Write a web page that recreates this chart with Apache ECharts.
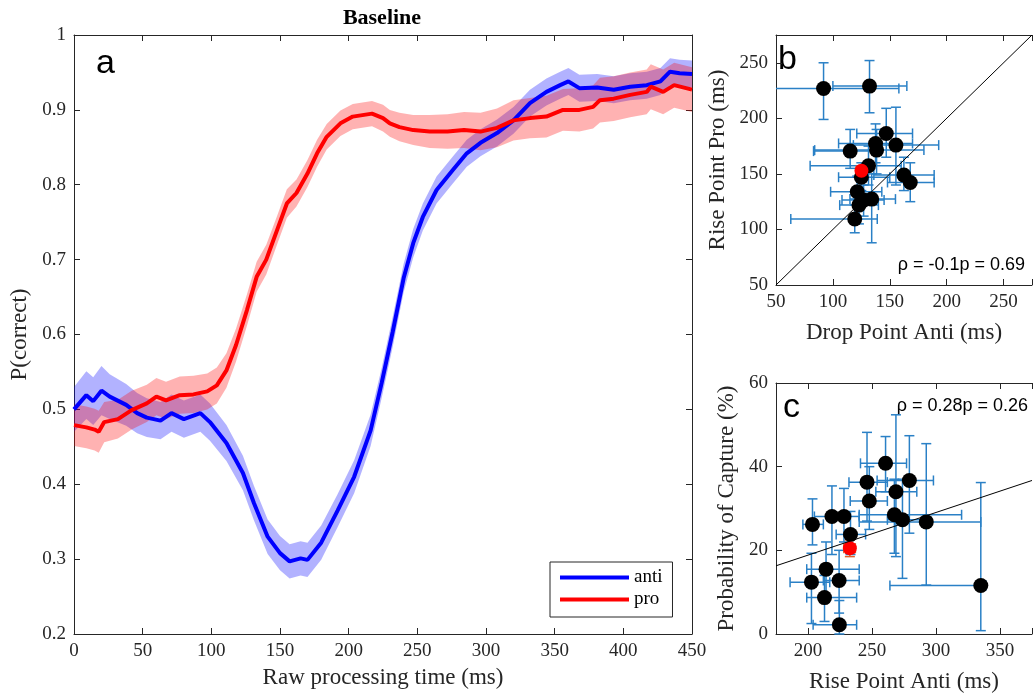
<!DOCTYPE html>
<html><head><meta charset="utf-8">
<script src="https://cdn.jsdelivr.net/npm/echarts@6/dist/echarts.min.js"></script>
<style>html,body{margin:0;padding:0;background:#fff}#c{width:1035px;height:694px}</style>
</head><body><div id="c"></div>
<script>
// ---------- Panel a data ----------
const timeAnti = [0,9,14,20,26,38,46,53,63,71, 80,92,99,111,123,131,141,150,157,165, 170,180,192,204,216,224,232,240,247,254, 264,276,286,296,308,320,332,344,354,360, 368,381,393,405,417,427,434,441,450];
const antiMean = [0.500,0.519,0.511,0.525,0.517,0.506,0.495,0.489,0.485,0.495, 0.487,0.495,0.483,0.455,0.415,0.375,0.330,0.308,0.297,0.301, 0.299,0.322,0.365,0.410,0.472,0.535,0.603,0.675,0.722,0.757, 0.793,0.820,0.842,0.856,0.869,0.886,0.909,0.924,0.933,0.938, 0.929,0.930,0.927,0.931,0.933,0.938,0.951,0.949,0.948];
const antiSem = [0.030,0.032,0.032,0.033,0.030,0.028,0.027,0.026,0.025,0.025, 0.025,0.025,0.025,0.024,0.023,0.023,0.023,0.023,0.023,0.023, 0.023,0.023,0.022,0.022,0.021,0.020,0.020,0.019,0.019,0.018, 0.018,0.018,0.018,0.018,0.018,0.018,0.018,0.018,0.018,0.018, 0.018,0.018,0.018,0.018,0.018,0.018,0.018,0.018,0.018];
const timePro = [0,9,15,18,22,32,42,53,60,67, 77,87,97,104,111,118,126,133,140,148, 155,162,170,177,184,194,203,217,225,230, 237,247,259,272,284,296,308,320,332,344, 356,368,378,383,393,405,417,420,429,437, 450];
const proMean = [0.479,0.476,0.473,0.470,0.483,0.487,0.499,0.508,0.517,0.512, 0.519,0.520,0.524,0.532,0.552,0.586,0.633,0.677,0.700,0.740, 0.775,0.789,0.815,0.842,0.864,0.882,0.891,0.895,0.889,0.882, 0.877,0.873,0.871,0.871,0.873,0.871,0.876,0.886,0.889,0.891, 0.900,0.900,0.904,0.913,0.915,0.920,0.924,0.931,0.924,0.933, 0.927];
const proSem = [0.028,0.028,0.028,0.028,0.027,0.026,0.026,0.025,0.025,0.025, 0.025,0.025,0.024,0.024,0.023,0.022,0.021,0.020,0.020,0.019, 0.019,0.018,0.018,0.018,0.017,0.017,0.017,0.017,0.018,0.018, 0.019,0.020,0.022,0.023,0.024,0.025,0.026,0.027,0.027,0.028, 0.028,0.029,0.029,0.030,0.030,0.030,0.030,0.030,0.030,0.030, 0.030];
const xTicksA = [0,450,50];
const yTicksA = [0.2,1,0.1];

// ---------- Panel b data ----------
const bX   = [91.8,132.2,146.9,155.4,137.5,138.4,115.2,131.3,162.4,168.0,121.4,134.1,127.0,122.9,119.2,125.0];
const bY   = [226.9,229.0,186.4,175.9,177.4,171.4,170.5,157.3,148.9,142.3,133.9,127.3,126.4,121.9,109.4,147.0];
const bXlo = [20,100,121,118,105,84,83,80,136,148,98,115,108,106,63,105];
const bXhi = [158,165,170,193,170,180,140,160,189,189,143,155,145,140,139,150];
const bYlo = [199,205,165,140,160,150,155,140,135,125,120,88,112,105,97,135];
const bYhi = [250,252,209,210,195,190,190,175,165,160,148,150,140,138,122,160];
const bMean = [125.1,152.8,120.5,129.5,148.5,157];
const identityB = [[50,50],[275,275]];

// ---------- Panel c data ----------
const cX   = [203.5,218.7,228.1,233.2,246.1,247.9,260.6,268.7,267.5,273.8,279.2,292.4,335.0,202.7,214.1,212.9,224.3,224.5];
const cY   = [26.2,28.1,28.1,23.8,36.3,31.8,40.8,34.0,28.5,27.3,36.7,26.8,11.6,12.4,15.5,8.7,12.8,2.2];
const cXlo = [196,205,218,222,232,233,241,253,240,262,254,240,264,186,199,199,212,204];
const cXhi = [212,232,240,245,262,262,277,285,320,290,298,335,339,217,240,238,240,238];
const cYlo = [21.3,19,22,19,27,25,34,18.5,19.3,13.3,24.1,11.7,0.8,2.5,8,3,5,0];
const cYhi = [32.3,35.4,34.8,29.3,48.2,40,47.2,52.4,37,37,47.4,45.5,36.2,19.3,22,14,20,8];
const cMean = [232.7,20.5,228,237,18.5,22.5];
const regressionC = [[175,16.3],[375,36.7]];

// ---------- helpers ----------
const AX = '#262626';
const SERIF = '"Liberation Serif","Times New Roman",serif';
const SANS = '"Liberation Sans",Arial,Helvetica,sans-serif';
const ERR = '#2a80c6';

function zip(a,b){ return a.map((v,i)=>[v,b[i]]); }
function pack(x,y,xl,xh,yl,yh){ return x.map((v,i)=>[v,y[i],xl[i],xh[i],yl[i],yh[i]]); }

function baseAxis(extra){
  return Object.assign({
    type:'value',
    axisLine:{show:true,onZero:false,lineStyle:{color:AX,width:1}},
    axisTick:{show:true,inside:true,length:6,lineStyle:{color:AX,width:1}},
    splitLine:{show:false},
    axisLabel:{color:AX,fontFamily:SERIF,fontSize:19,margin:8},
    nameLocation:'middle',
    nameTextStyle:{color:AX,fontFamily:SERIF,fontSize:23}
  }, extra);
}
function mirror(extra){
  const a = baseAxis(extra);
  a.axisLabel = {show:false};
  return a;
}
const lbl50 = {color:AX,fontFamily:SERIF,fontSize:19,margin:8,formatter:v=>(v%50===0?String(v):'')};

function bandRender(times, mean, sem, fill){
  return function(params, api){
    const up = [], lo = [];
    for (let i=0;i<times.length;i++){
      up.push(api.coord([times[i], mean[i]+sem[i]]));
      lo.push(api.coord([times[i], mean[i]-sem[i]]));
    }
    return {type:'polygon', shape:{points: up.concat(lo.reverse())}, style:{fill:fill, stroke:null}};
  };
}

function errRender(color, lw, cap){
  return function(params, api){
    const cs = params.coordSys;
    const cx = v=>Math.max(cs.x, Math.min(cs.x+cs.width, v));
    const cy = v=>Math.max(cs.y, Math.min(cs.y+cs.height, v));
    const x=api.value(0), y=api.value(1);
    const c = api.coord([x,y]);
    const pxl = api.coord([api.value(2),y])[0], pxh = api.coord([api.value(3),y])[0];
    const pyl = api.coord([x,api.value(4)])[1], pyh = api.coord([x,api.value(5)])[1];
    const st = {stroke:color, lineWidth:lw, fill:null};
    const L = (x1,y1,x2,y2)=>({type:'line',shape:{x1,y1,x2,y2},style:st});
    const ch = [];
    ch.push(L(cx(pxl),c[1],cx(pxh),c[1]));
    if (pxl>=cs.x) ch.push(L(pxl,c[1]-cap,pxl,c[1]+cap));
    if (pxh<=cs.x+cs.width) ch.push(L(pxh,c[1]-cap,pxh,c[1]+cap));
    ch.push(L(c[0],cy(pyl),c[0],cy(pyh)));
    if (pyl<=cs.y+cs.height) ch.push(L(c[0]-cap,pyl,c[0]+cap,pyl));
    if (pyh>=cs.y) ch.push(L(c[0]-cap,pyh,c[0]+cap,pyh));
    return {type:'group', children:ch};
  };
}

const chart = echarts.init(document.getElementById('c'), null, {renderer:'canvas'});

const option = {
  animation:false,
  backgroundColor:'#fff',
  grid:[
    {left:74, top:35, width:618, height:599},
    {left:776, top:35, width:265, height:250},
    {left:776, top:383, width:262, height:251}
  ],
  xAxis:[
    baseAxis({gridIndex:0, position:'bottom', min:xTicksA[0], max:xTicksA[1], interval:xTicksA[2],
      name:'Raw processing time (ms)', nameGap:32}),
    mirror({gridIndex:0, position:'top', min:xTicksA[0], max:xTicksA[1], interval:xTicksA[2]}),
    baseAxis({gridIndex:1, position:'bottom', min:50, max:275, interval:50,
      name:'Drop Point Anti (ms)', nameGap:36, axisLabel:lbl50}),
    mirror({gridIndex:1, position:'top', min:50, max:275, interval:50}),
    baseAxis({gridIndex:2, position:'bottom', min:175, max:375, minInterval:50, maxInterval:50,
      name:'Rise Point Anti (ms)', nameGap:36, axisLabel:lbl50}),
    mirror({gridIndex:2, position:'top', min:175, max:375, minInterval:50, maxInterval:50})
  ],
  yAxis:[
    baseAxis({gridIndex:0, position:'left', min:yTicksA[0], max:yTicksA[1], interval:yTicksA[2],
      name:'P(correct)', nameGap:42,
      axisLabel:{color:AX,fontFamily:SERIF,fontSize:19,margin:8,formatter:v=>String(Math.round(v*10)/10)}}),
    mirror({gridIndex:0, position:'right', min:yTicksA[0], max:yTicksA[1], interval:yTicksA[2]}),
    baseAxis({gridIndex:1, position:'left', min:50, max:275, interval:50,
      name:'Rise Point Pro (ms)', nameGap:47, axisLabel:lbl50}),
    baseAxis({gridIndex:2, position:'left', min:0, max:60, interval:20,
      name:'Probability of Capture (%)', nameGap:38})
  ],
  legend:{
    left:550, top:562, orient:'vertical',
    data:[{name:'anti',icon:'rect'},{name:'pro',icon:'rect'}],
    itemWidth:69, itemHeight:4, itemGap:3,
    padding:[6,10,8,10],
    borderColor:AX, borderWidth:1, backgroundColor:'#fff',
    textStyle:{fontFamily:SERIF,fontSize:19,color:'#000',lineHeight:18},
    selectedMode:false
  },
  series:[
    {type:'custom', xAxisIndex:0, yAxisIndex:0, data:[[0,0.5]], silent:true,
      renderItem:bandRender(timeAnti, antiMean, antiSem, 'rgba(0,0,255,0.3)')},
    {type:'line', name:'anti', xAxisIndex:0, yAxisIndex:0, data:zip(timeAnti,antiMean),
      showSymbol:false, lineStyle:{color:'#0000ff',width:4}, itemStyle:{color:'#0000ff'}},
    {type:'custom', xAxisIndex:0, yAxisIndex:0, data:[[0,0.5]], silent:true,
      renderItem:bandRender(timePro, proMean, proSem, 'rgba(255,0,0,0.3)')},
    {type:'line', name:'pro', xAxisIndex:0, yAxisIndex:0, data:zip(timePro,proMean),
      showSymbol:false, lineStyle:{color:'#ff0000',width:4}, itemStyle:{color:'#ff0000'}},

    {type:'line', xAxisIndex:2, yAxisIndex:2, data:identityB, showSymbol:false,
      lineStyle:{color:'#000',width:1}},
    {type:'custom', xAxisIndex:2, yAxisIndex:2, data:pack(bX,bY,bXlo,bXhi,bYlo,bYhi),
      encode:{x:0,y:1}, renderItem:errRender(ERR,1.5,5)},
    {type:'scatter', xAxisIndex:2, yAxisIndex:2, data:zip(bX,bY), symbolSize:15,
      itemStyle:{color:'#000',opacity:1}},
    {type:'custom', xAxisIndex:2, yAxisIndex:2, data:[bMean], encode:{x:0,y:1},
      renderItem:errRender('#e0602a',1.5,5)},
    {type:'scatter', xAxisIndex:2, yAxisIndex:2, data:[[bMean[0],bMean[1]]], symbolSize:14,
      itemStyle:{color:'#ff0000',opacity:1}},

    {type:'line', xAxisIndex:4, yAxisIndex:3, data:regressionC, showSymbol:false,
      lineStyle:{color:'#000',width:1}},
    {type:'custom', xAxisIndex:4, yAxisIndex:3, data:pack(cX,cY,cXlo,cXhi,cYlo,cYhi),
      encode:{x:0,y:1}, renderItem:errRender(ERR,1.5,5)},
    {type:'scatter', xAxisIndex:4, yAxisIndex:3, data:zip(cX,cY), symbolSize:15,
      itemStyle:{color:'#000',opacity:1}},
    {type:'custom', xAxisIndex:4, yAxisIndex:3, data:[cMean], encode:{x:0,y:1},
      renderItem:errRender('#e0602a',1.5,5)},
    {type:'scatter', xAxisIndex:4, yAxisIndex:3, data:[[cMean[0],cMean[1]]], symbolSize:14,
      itemStyle:{color:'#ff0000',opacity:1}}
  ],
  graphic:[
    {type:'text', x:382, y:18, style:{text:'Baseline', font:'bold 22px '+SERIF, fill:'#000', align:'center', verticalAlign:'middle'}},
    {type:'text', left:96, top:47, style:{text:'a', font:'34px '+SANS, fill:'#000'}},
    {type:'text', left:778, top:43, style:{text:'b', font:'34px '+SANS, fill:'#000'}},
    {type:'text', left:783, top:391, style:{text:'c', font:'34px '+SANS, fill:'#000'}},
    {type:'text', right:10, top:256, style:{text:'ρ = -0.1p = 0.69', font:'18px '+SANS, fill:'#000'}},
    {type:'text', right:7, top:397, style:{text:'ρ = 0.28p = 0.26', font:'18px '+SANS, fill:'#000'}}
  ]
};
chart.setOption(option);
</script>
</body></html>
